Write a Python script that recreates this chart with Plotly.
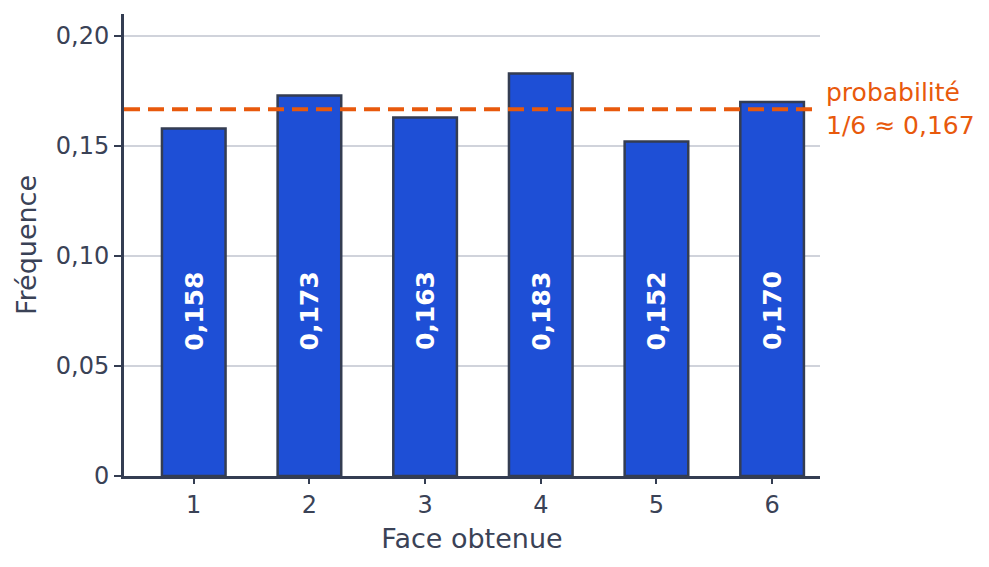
import plotly.graph_objects as go

faces = ["1", "2", "3", "4", "5", "6"]
freqs = [0.158, 0.173, 0.163, 0.183, 0.152, 0.170]
freq_labels = ["0,158", "0,173", "0,163", "0,183", "0,152", "0,170"]
ytick_vals = [0, 0.05, 0.10, 0.15, 0.20]
ytick_text = ["0", "0,05", "0,10", "0,15", "0,20"]
proba = 1 / 6
proba_label = "probabilité<br>1/6 ≈ 0,167"
label_y = 0.075

TXT = "#3a4256"
DARK = "#343d52"
BLUE = "#1e4fd6"
ORANGE = "#e8590c"
FONT = "DejaVu Sans"

fig = go.Figure()
fig.add_trace(go.Bar(
    x=faces, y=freqs, width=0.55,
    marker=dict(color=BLUE, line=dict(color=DARK, width=2.5)),
    hoverinfo="skip",
))

for i, lab in enumerate(freq_labels):
    fig.add_annotation(x=i, y=label_y, text="<b>%s</b>" % lab, textangle=-90,
                       showarrow=False, font=dict(family=FONT, size=25, color="white"),
                       xref="x", yref="y")

fig.add_shape(type="line", xref="paper", yref="y", x0=0, x1=1, y0=proba, y1=proba,
              line=dict(color=ORANGE, width=4, dash="16px,8px"), layer="above")
fig.add_annotation(xref="paper", yref="y", x=1.006, y=proba, text=proba_label,
                   showarrow=False, xanchor="left", yanchor="middle", align="left",
                   font=dict(family=FONT, size=25, color=ORANGE))

fig.update_layout(
    width=989, height=567,
    margin=dict(l=116, r=177, t=6, b=99),
    plot_bgcolor="white", paper_bgcolor="white",
    font=dict(family=FONT, size=24, color=TXT),
    showlegend=False,
    xaxis=dict(
        title=dict(text="Face obtenue", font=dict(size=27, color=TXT), standoff=12),
        showline=True, linecolor=DARK, linewidth=3,
        ticks="outside", ticklen=5, tickwidth=2, tickcolor=DARK,
        tickfont=dict(size=24, color=TXT),
        range=[-0.603, 5.414], showgrid=False, zeroline=False,
    ),
    yaxis=dict(
        title=dict(text="Fréquence", font=dict(size=27, color=TXT), standoff=12),
        showline=True, linecolor=DARK, linewidth=3,
        ticks="outside", ticklen=7, tickwidth=2, tickcolor=DARK,
        tickvals=ytick_vals, ticktext=ytick_text,
        tickfont=dict(size=24, color=TXT),
        range=[0, 0.21], showgrid=True, gridcolor="#d0d3db", gridwidth=1.5,
        zeroline=False,
    ),
)

fig.write_html("out.html")
